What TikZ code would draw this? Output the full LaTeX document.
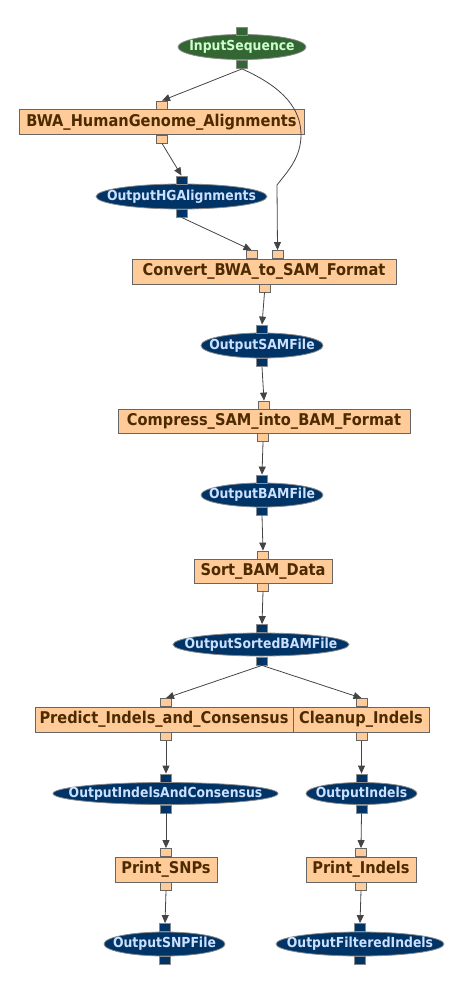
\documentclass[tikz,border=0pt]{standalone}
\usepackage{fontspec}
\usetikzlibrary{shapes.geometric,arrows.meta}
\newfontfamily\labfont{DejaVu Sans Bold}[FakeStretch=0.9]
\definecolor{boxfill}{HTML}{FFCC99}
\definecolor{boxline}{HTML}{666666}
\definecolor{boxtext}{HTML}{4D2A00}
\definecolor{bluefill}{HTML}{003366}
\definecolor{bluetext}{HTML}{CCE0FF}
\definecolor{greenfill}{HTML}{336633}
\definecolor{greentext}{HTML}{CCFFCC}
\definecolor{ovalline}{HTML}{8A8A8A}
\definecolor{edgecol}{HTML}{444444}
\tikzset{
  procbox/.style={rectangle, draw=boxline, line width=1pt, fill=boxfill, inner sep=0pt,
    minimum height=25pt, text=boxtext, font=\labfont\fontsize{16.2}{18}\selectfont},
  boxport/.style={rectangle, draw=boxline, line width=0.8pt, fill=boxfill, inner sep=0pt,
    minimum width=11pt, minimum height=8pt},
  oval/.style={ellipse, draw=ovalline, line width=0.8pt, fill=bluefill, inner sep=0pt},
  ovaltext/.style={inner sep=0pt, text=bluetext, font=\labfont\fontsize{13.8}{16}\selectfont},
  ovalport/.style={rectangle, draw=ovalline, line width=0.8pt, fill=bluefill, inner sep=0pt,
    minimum width=11pt, minimum height=8pt},
  goval/.style={oval, fill=greenfill},
  govaltext/.style={ovaltext, text=greentext},
  govalport/.style={ovalport, fill=greenfill},
  link/.style={draw=edgecol, line width=0.8pt, -{Triangle[length=8pt,width=7pt]}}
}
\begin{document}
\begin{tikzpicture}[x=1pt,y=-1pt]
\useasboundingbox (0,0) rectangle (463,991);
% ---------- InputSequence
\node[goval, minimum width=128pt, minimum height=25pt] (inseq) at (242,47) {};
\node[govaltext] at (inseq) {InputSequence};
\node[govalport] (inseq-t) at (242,31) {};
\node[govalport] (inseq-b) at (242,64.5) {};
% ---------- BWA
\node[procbox, minimum width=285pt] (bwa) at (161.5,122) {BWA\_HumanGenome\_Alignments};
\node[boxport] (bwa-t) at (162,105) {};
\node[boxport] (bwa-b) at (162,139) {};
% ---------- OutputHGAlignments
\node[oval, minimum width=171pt, minimum height=25pt] (hg) at (181.5,196.5) {};
\node[ovaltext] at (hg) {OutputHGAlignments};
\node[ovalport] (hg-t) at (181.5,180) {};
\node[ovalport] (hg-b) at (181.5,213) {};
% ---------- Convert
\node[procbox, minimum width=264pt] (conv) at (264,271.5) {Convert\_BWA\_to\_SAM\_Format};
\node[boxport] (conv-t1) at (251.5,254.5) {};
\node[boxport] (conv-t2) at (277.5,254.5) {};
\node[boxport] (conv-b) at (264.5,288) {};
% ---------- OutputSAMFile
\node[oval, minimum width=122pt, minimum height=25pt] (sam) at (262,345.5) {};
\node[ovaltext] at (sam) {OutputSAMFile};
\node[ovalport] (sam-t) at (262,329) {};
\node[ovalport] (sam-b) at (262,362.5) {};
% ---------- Compress
\node[procbox, minimum width=292pt, minimum height=24pt] (comp) at (264,421) {Compress\_SAM\_into\_BAM\_Format};
\node[boxport] (comp-t) at (264,405) {};
\node[boxport] (comp-b) at (263,437.5) {};
% ---------- OutputBAMFile
\node[oval, minimum width=122pt, minimum height=24pt] (bam) at (262,495) {};
\node[ovaltext] at (bam) {OutputBAMFile};
\node[ovalport] (bam-t) at (262,479) {};
\node[ovalport] (bam-b) at (262,511) {};
% ---------- Sort
\node[procbox, minimum width=138pt, minimum height=24pt] (sort) at (263,571) {Sort\_BAM\_Data};
\node[boxport] (sort-t) at (263,555) {};
\node[boxport] (sort-b) at (263,587) {};
% ---------- OutputSortedBAMFile
\node[oval, minimum width=176pt, minimum height=23pt] (sbam) at (261,644.5) {};
\node[ovaltext] at (sbam) {OutputSortedBAMFile};
\node[ovalport] (sbam-t) at (262,628.5) {};
\node[ovalport] (sbam-b) at (262,661) {};
% ---------- Predict
\node[procbox, minimum width=258pt] (pred) at (164,719.5) {Predict\_Indels\_and\_Consensus};
\node[boxport] (pred-t) at (166,702.5) {};
\node[boxport] (pred-b) at (166,736.5) {};
% ---------- Cleanup
\node[procbox, minimum width=136pt] (clean) at (361,719.5) {Cleanup\_Indels};
\node[boxport] (clean-t) at (361.5,702.5) {};
\node[boxport] (clean-b) at (361.5,736.5) {};
% ---------- OutputIndelsAndConsensus
\node[oval, minimum width=225pt, minimum height=22pt] (iac) at (165.5,793.5) {};
\node[ovaltext] at (iac) {OutputIndelsAndConsensus};
\node[ovalport] (iac-t) at (166,778) {};
\node[ovalport] (iac-b) at (166,809) {};
% ---------- OutputIndels
\node[oval, minimum width=111pt, minimum height=22pt] (ind) at (361.5,793.5) {};
\node[ovaltext] at (ind) {OutputIndels};
\node[ovalport] (ind-t) at (361.5,778) {};
\node[ovalport] (ind-b) at (361.5,809) {};
% ---------- Print_SNPs
\node[procbox, minimum width=102pt] (psnp) at (166,869.5) {Print\_SNPs};
\node[boxport] (psnp-t) at (166,852.5) {};
\node[boxport] (psnp-b) at (166,886.5) {};
% ---------- Print_Indels
\node[procbox, minimum width=110pt] (pind) at (361,869.5) {Print\_Indels};
\node[boxport] (pind-t) at (361,852.5) {};
\node[boxport] (pind-b) at (361,886.5) {};
% ---------- OutputSNPFile
\node[oval, minimum width=121pt, minimum height=24pt] (snp) at (164.5,944) {};
\node[ovaltext] at (snp) {OutputSNPFile};
\node[ovalport] (snp-t) at (165,927.5) {};
\node[ovalport] (snp-b) at (165,960.5) {};
% ---------- OutputFilteredIndels
\node[oval, minimum width=168pt, minimum height=24pt] (fi) at (360,944) {};
\node[ovaltext] at (fi) {OutputFilteredIndels};
\node[ovalport] (fi-t) at (360,927.5) {};
\node[ovalport] (fi-b) at (360,960.5) {};
% ---------- connectors
\coordinate (bend) at (277,185);
\draw[link] (inseq-b.south) -- (bwa-t.north);
\draw[link] (inseq-b.south) .. controls (285,88) and (301,110) .. (301,135)
   .. controls (301,158) and (287,172) .. (bend) -- (conv-t2.north);
\draw[link] (bwa-b.south) -- (hg-t.north);
\draw[link] (hg-b.south) -- (conv-t1.north);
\draw[link] (conv-b.south) -- (sam-t.north);
\draw[link] (sam-b.south) -- (comp-t.north);
\draw[link] (comp-b.south) -- (bam-t.north);
\draw[link] (bam-b.south) -- (sort-t.north);
\draw[link] (sort-b.south) -- (sbam-t.north);
\draw[link] (sbam-b.south) -- (pred-t.north);
\draw[link] (sbam-b.south) -- (clean-t.north);
\draw[link] (pred-b.south) -- (iac-t.north);
\draw[link] (clean-b.south) -- (ind-t.north);
\draw[link] (iac-b.south) -- (psnp-t.north);
\draw[link] (ind-b.south) -- (pind-t.north);
\draw[link] (psnp-b.south) -- (snp-t.north);
\draw[link] (pind-b.south) -- (fi-t.north);
\end{tikzpicture}
\end{document}
